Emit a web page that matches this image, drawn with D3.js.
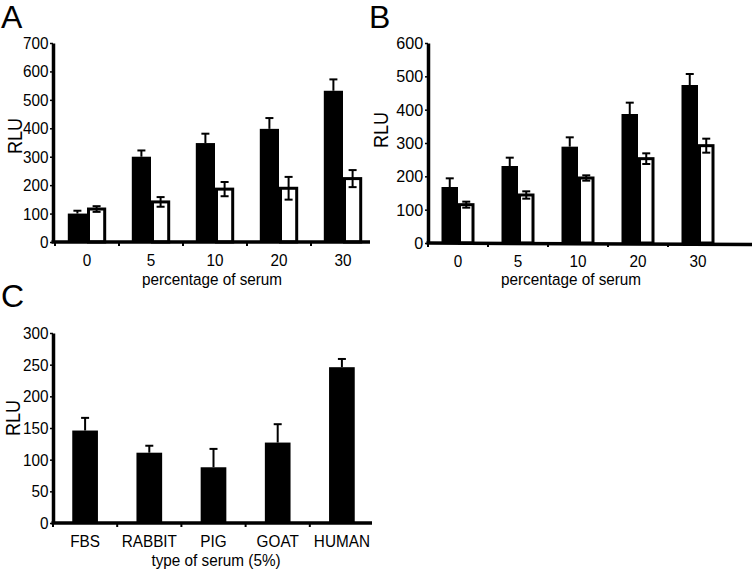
<!DOCTYPE html>
<html>
<head>
<meta charset="utf-8">
<script src="https://cdn.jsdelivr.net/npm/d3@7"></script>
<style>
  body { margin: 0; background: #fff; }
  svg { font-family: "Liberation Sans", Arial, sans-serif; }
</style>
</head>
<body>
<div id="graphic-area"></div>
<script>
// panel A / B: percentage of serum, black vs white bars
const serumPct = ["0", "5", "10", "20", "30"];
const aBlack = [100, 300, 348, 398, 532];
const aBlackErr = [10, 22, 33, 38, 40];
const aWhite = [116, 141, 186, 189, 223];
const aWhiteErr = [10, 17, 25, 40, 30];
const aTicks = [0, 100, 200, 300, 400, 500, 600, 700];

const bBlack = [168, 231, 289, 387, 474];
const bBlackErr = [26, 25, 28, 34, 33];
const bWhite = [115, 144, 195, 253, 292];
const bWhiteErr = [9, 11, 8, 16, 21];
const bTicks = [0, 100, 200, 300, 400, 500, 600];

// panel C: type of serum
const serumType = ["FBS", "RABBIT", "PIG", "GOAT", "HUMAN"];
const cValues = [146, 111, 88, 127, 246];
const cErr = [20, 11, 29, 29, 13];
const cTicks = [0, 50, 100, 150, 200, 250, 300];

const w = 755;
const h = 574;
const squeeze = 0.9; // the figure's lettering is a bit narrow

const svg = d3.select("#graphic-area")
              .append("svg")
              .attr("width", w)
              .attr("height", h);

// narrow text helper
const label = function(x, y, str, size, anchor, rot) {
  return svg.append("text")
            .attr("transform", "translate(" + x + "," + y + ")" + (rot ? " rotate(-90)" : "") + " scale(" + squeeze + ",1)")
            .attr("text-anchor", anchor || "middle")
            .attr("font-size", size)
            .text(str);
};

const panel = function(opt) {
  const x0 = d3.scaleBand()
               .domain(opt.categories)
               .range(opt.band);
  const x1 = d3.scaleBand()
               .domain(opt.series.map((s, i) => i))
               .range([x0.bandwidth() * opt.inner[0], x0.bandwidth() * opt.inner[1]]);
  const y = d3.scaleLinear()
              .domain([0, opt.ymax])
              .range([opt.bottom, opt.top]);

  // bars
  opt.series.forEach(function(s, si) {
    svg.append("g")
       .selectAll("rect")
       .data(s.values)
       .enter()
       .append("rect")
       .attr("x", (d, i) => x0(opt.categories[i]) + x1(si) + (s.hollow ? 1.5 : 0))
       .attr("y", (d) => y(d))
       .attr("width", x1.bandwidth() - (s.hollow ? 3 : 0))
       .attr("height", (d) => opt.bottom - y(d))
       .attr("fill", s.hollow ? "#fff" : "#000")
       .attr("stroke", s.hollow ? "#000" : "none")
       .attr("stroke-width", 3);

    // error bars (black bars only show the upper half)
    const eb = svg.append("g").attr("stroke", "#000").attr("stroke-width", 2);
    s.values.forEach(function(v, i) {
      const cx = x0(opt.categories[i]) + x1(si) + x1.bandwidth() / 2;
      const lo = s.hollow ? v - s.err[i] : v;
      const hi = v + s.err[i];
      const cap = opt.cap;
      eb.append("line").attr("x1", cx).attr("x2", cx).attr("y1", y(lo)).attr("y2", y(hi));
      eb.append("line").attr("x1", cx - cap).attr("x2", cx + cap).attr("y1", y(hi)).attr("y2", y(hi));
      if (s.hollow) {
        eb.append("line").attr("x1", cx - cap).attr("x2", cx + cap).attr("y1", y(lo)).attr("y2", y(lo));
      }
    });
  });

  // y axis
  const yAxis = svg.append("g")
     .attr("transform", "translate(" + opt.left + ", 0)")
     .call(d3.axisLeft(y).tickValues(opt.ticks).tickSize(3).tickSizeOuter(0).tickPadding(2));
  yAxis.select(".domain").attr("stroke-width", 3.5);
  yAxis.selectAll(".tick line").attr("stroke-width", 1.5);
  yAxis.selectAll(".tick text")
       .attr("font-size", opt.tickSize)
       .attr("font-family", "Liberation Sans, Arial, sans-serif")
       .attr("fill", "#000")
       .attr("transform", "scale(" + opt.tickSqueeze + ",1)");

  // x axis line, boundary ticks, category labels
  svg.append("line")
     .attr("x1", opt.left - 1.5).attr("x2", opt.axisEnd)
     .attr("y1", opt.bottom).attr("y2", opt.bottom + opt.tilt)
     .attr("stroke", "#000").attr("stroke-width", 3.5);

  svg.append("g")
     .selectAll("line")
     .data(opt.categories)
     .enter()
     .append("line")
     .attr("x1", (d) => x0(d)).attr("x2", (d) => x0(d))
     .attr("y1", opt.bottom).attr("y2", opt.bottom + 4)
     .attr("stroke", "#000").attr("stroke-width", 2);

  opt.categories.forEach(function(d) {
    label(x0(d) + x0.bandwidth() / 2, opt.bottom + 24, d, 17);
  });

  label(opt.titleX, opt.titleY, opt.title, 17);
  label(opt.rlu[0], opt.rlu[1], "RLU", 20, "middle", true);

  svg.append("text")
     .attr("x", opt.letter[0])
     .attr("y", opt.letter[1])
     .attr("font-size", 32)
     .text(opt.name);
};

panel({
  name: "A", letter: [1, 28],
  categories: serumPct, band: [55, 375], inner: [0.2, 0.8],
  series: [{values: aBlack, err: aBlackErr}, {values: aWhite, err: aWhiteErr, hollow: true}],
  ymax: 700, ticks: aTicks, top: 43, bottom: 242, left: 53, axisEnd: 370, tilt: 0,
  tickSize: 17, tickSqueeze: 0.9,
  cap: 4, title: "percentage of serum", titleX: 212, titleY: 285, rlu: [22, 136]
});

panel({
  name: "B", letter: [369, 28],
  categories: serumPct, band: [428, 728], inner: [0.225, 0.775],
  series: [{values: bBlack, err: bBlackErr}, {values: bWhite, err: bWhiteErr, hollow: true}],
  ymax: 600, ticks: bTicks, top: 43, bottom: 243, left: 428, axisEnd: 752, tilt: 1.5,
  tickSize: 17, tickSqueeze: 0.95,
  cap: 4, title: "percentage of serum", titleX: 571, titleY: 285, rlu: [388, 130]
});

panel({
  name: "C", letter: [1, 307],
  categories: serumType, band: [53, 374], inner: [0.3, 0.7],
  series: [{values: cValues, err: cErr}],
  ymax: 300, ticks: cTicks, top: 333, bottom: 523, left: 53, axisEnd: 372, tilt: 0,
  tickSize: 17, tickSqueeze: 0.9,
  cap: 4, title: "type of serum (5%)", titleX: 216, titleY: 566, rlu: [20, 418]
});
</script>
</body>
</html>
